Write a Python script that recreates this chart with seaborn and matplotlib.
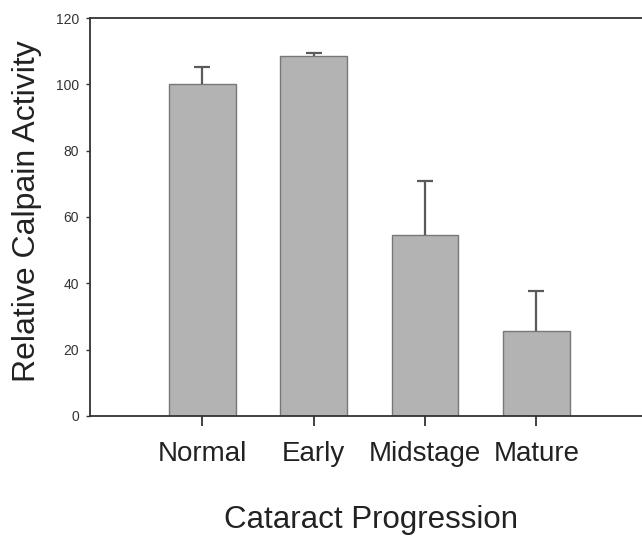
import matplotlib
matplotlib.use("Agg")
import matplotlib.pyplot as plt
import seaborn as sns
import pandas as pd
import numpy as np

categories = ["Normal", "Early", "Midstage", "Mature"]
values = [100.0, 108.6, 54.6, 25.5]
err_upper = [5.1, 0.9, 16.3, 12.2]
y_ticks = [0, 20, 40, 60, 80, 100, 120]

sns.set_theme(style="white")
plt.rcParams['font.family'] = ['Liberation Sans', 'DejaVu Sans']

df = pd.DataFrame({"stage": categories, "activity": values})

fig = plt.figure(figsize=(6.42, 5.36), dpi=100)
ax = fig.add_axes([0.1402, 0.2239, 0.8598, 0.7425])

sns.barplot(data=df, x="stage", y="activity", order=categories,
            color="#b3b3b3", saturation=1, width=0.6, errorbar=None,
            edgecolor="#777777", linewidth=1.0, ax=ax)

xs = np.arange(len(categories))
_, caps, _ = ax.errorbar(xs, values, yerr=[np.zeros(len(values)), err_upper], fmt="none",
                         ecolor="#5a5a5a", elinewidth=1.6, capsize=5.5, capthick=1.6, zorder=3)
caps[0].set_visible(False)

ax.set_xlim(-1.01, 3.95)
ax.set_ylim(0, 120)
ax.set_yticks(y_ticks)
ax.set_yticklabels([str(t) for t in y_ticks])

for side in ["left", "bottom", "top"]:
    ax.spines[side].set_visible(True)
    ax.spines[side].set_color("#333333")
    ax.spines[side].set_linewidth(1.3)
ax.spines["right"].set_visible(False)

ax.tick_params(axis="y", which="major", left=True, direction="out", length=3,
               width=1.0, color="#333333", labelsize=10, labelcolor="#333333", pad=5)
ax.tick_params(axis="x", which="major", bottom=True, direction="out", length=7,
               width=1.3, color="#333333", labelsize=20, labelcolor="#222222", pad=11)

ax.set_xlabel("Cataract Progression", fontsize=22.5, color="#222222", labelpad=27.5)
ax.xaxis.label.set_x(0.509)
ax.set_ylabel("Relative Calpain Activity", fontsize=23, color="#222222", labelpad=10)
ax.yaxis.label.set_y(0.515)

fig.savefig("out.png", dpi=100)
